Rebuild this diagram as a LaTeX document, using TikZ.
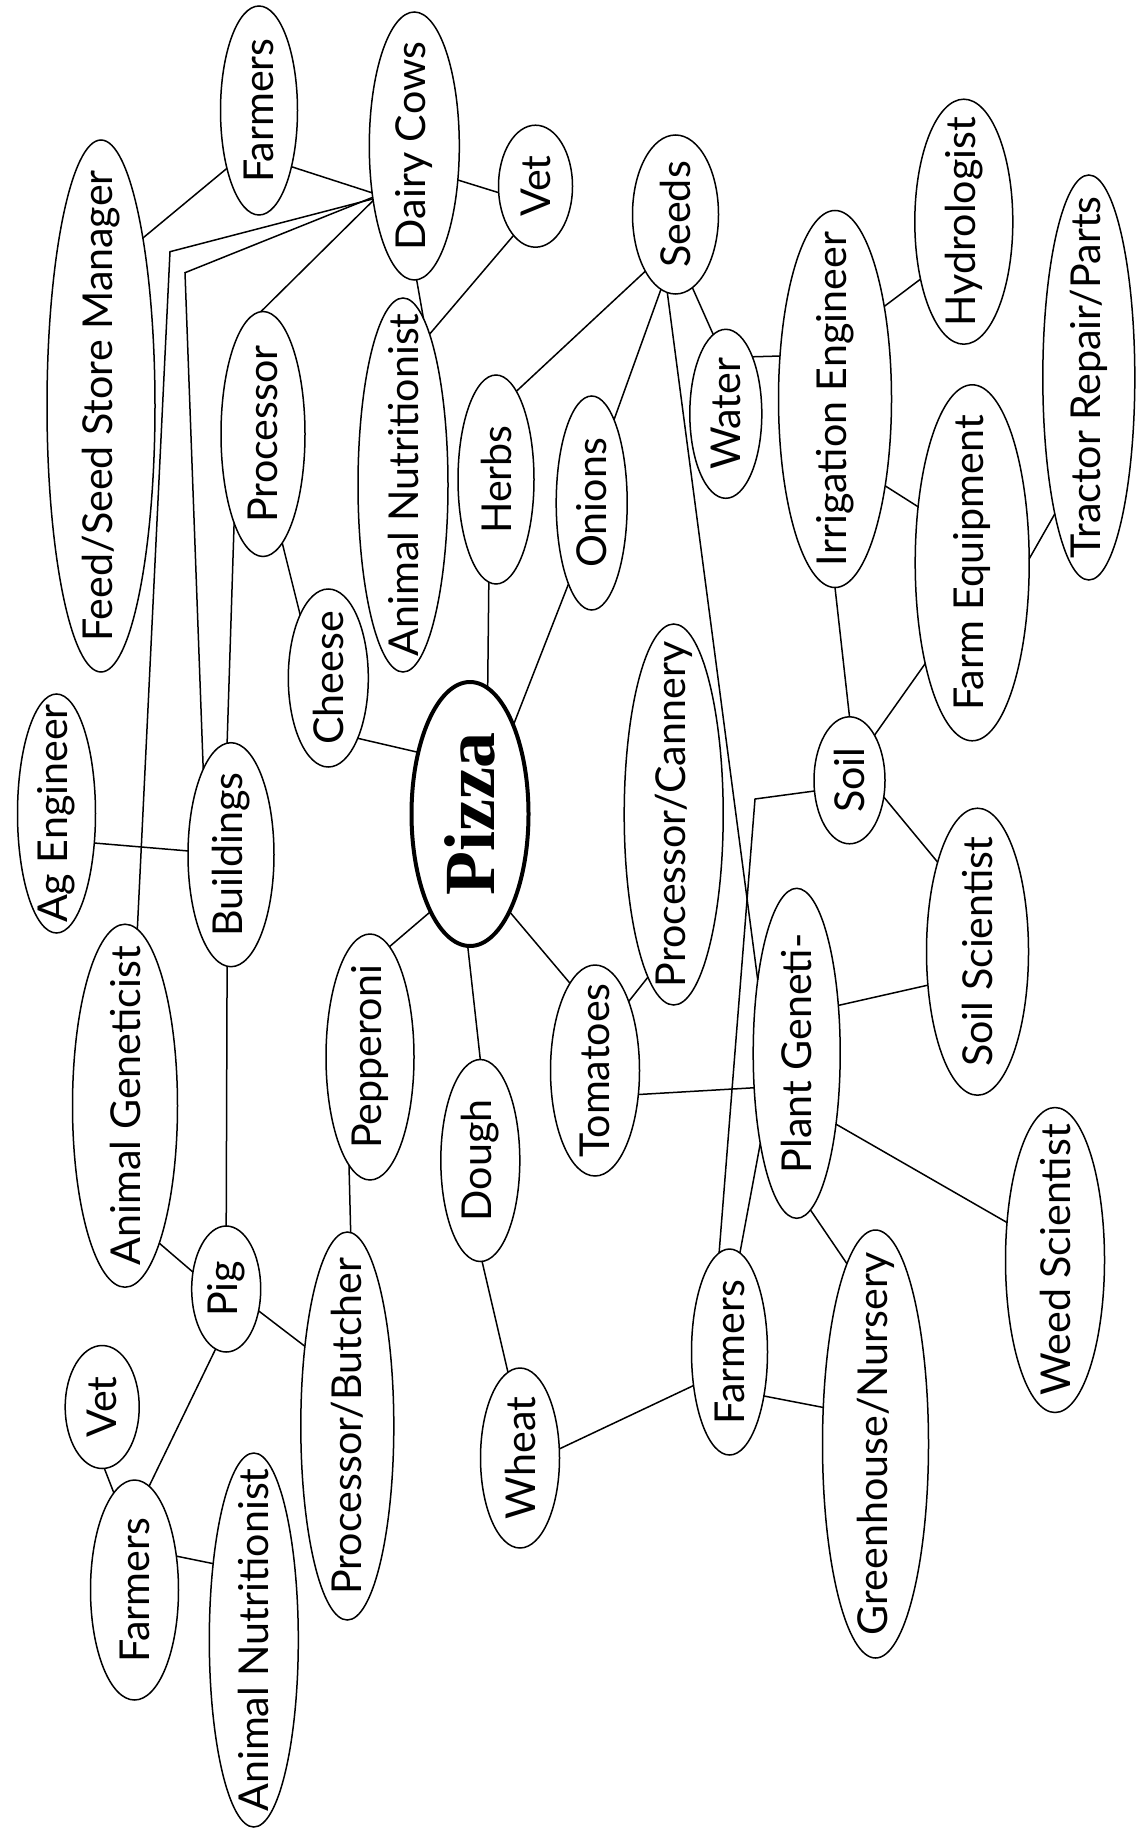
\documentclass[tikz,border=0pt]{standalone}
\usepackage{fontspec}
\setmainfont{Lato}
\newfontfamily\pzfont{Liberation Serif}
\usetikzlibrary{shapes.geometric}
\newcommand{\ellnode}[6]{\node[ell, minimum width=#4*0.5pt, minimum height=#5*0.5pt, label={[lbl]center:#6}] (#1) at (#2,#3) {};}
\begin{document}
\begin{tikzpicture}[x=0.5pt,y=-0.5pt,
  ell/.style={ellipse, draw, line width=0.75pt, inner sep=0pt, outer sep=0pt},
  lbl/.style={rotate=90, inner sep=0pt, font=\fontsize{20.6}{24}\selectfont},
  pzlbl/.style={rotate=90, inner sep=0pt, font=\pzfont\bfseries\fontsize{36}{40}\selectfont},
  edge/.style={line width=0.75pt}]
\path[use as bounding box, fill=white] (0,0) rectangle (1144,1829);

% nodes
\ellnode{farmersT}{259}{110.5}{77}{209}{Farmers}
\ellnode{dairy}{414.3}{146}{90}{268}{Dairy Cows}
\ellnode{vetT}{535.5}{186.2}{74}{122}{Vet}
\ellnode{feed}{101}{406}{108}{532}{Feed/Seed Store Manager}
\ellnode{seeds}{675.5}{214.5}{86}{159}{Seeds}
\ellnode{hydro}{963.8}{221.7}{98}{245}{Hydrologist}
\ellnode{tractor}{1088.8}{377.5}{92}{405}{Tractor Repair/Parts}
\ellnode{irrig}{835}{399}{113}{377}{Irrigation Engineer}
\ellnode{water}{725.8}{413.8}{72}{169}{Water}
\ellnode{procT}{263}{434}{84}{245}{Processor}
\ellnode{anutT}{403}{485}{90}{374}{Animal Nutritionist}
\ellnode{herbs}{496}{479.5}{76}{209}{Herbs}
\ellnode{onions}{591.7}{503}{71}{214}{Onions}
\ellnode{farmeq}{972.2}{562.8}{114}{356}{Farm Equipment}
\ellnode{cheese}{328.3}{678}{80}{178}{Cheese}
\ellnode{cannery}{673.7}{814.5}{99}{381}{Processor/Cannery}
\node[ell, line width=2pt, minimum width=117*0.5pt, minimum height=264*0.5pt,
  label={[pzlbl]center:Pizza}] (pizza) at (470,814) {};
\ellnode{agEng}{56.5}{813.5}{78}{239}{Ag Engineer}
\ellnode{build}{231}{854.7}{86}{224}{Buildings}
\ellnode{soil}{849.5}{780.3}{71}{127}{Soil}
\ellnode{agen}{125}{1105.7}{105}{363}{Animal Geneticist}
\ellnode{pepp}{370}{1057}{88}{246}{Pepperoni}
\ellnode{soilsci}{977.5}{951.7}{102}{287}{Soil Scientist}
\ellnode{tom}{595}{1070.5}{89}{211}{Tomatoes}
\ellnode{dough}{480.3}{1160.5}{79}{202}{Dough}
\ellnode{plantg}{796.7}{1053.3}{87}{330}{Plant Geneti-}
\ellnode{weed}{1055}{1260}{99}{305}{Weed Scientist}
\ellnode{pig}{226.2}{1289}{69}{126}{Pig}
\ellnode{butcher}{347.3}{1426}{93}{388}{Processor/Butcher}
\ellnode{vetB}{102.2}{1407}{74}{123}{Vet}
\ellnode{farmersM}{729.5}{1352}{76}{206}{Farmers}
\ellnode{green}{875.5}{1444}{106}{428}{Greenhouse/Nursery}
\ellnode{wheat}{520}{1458}{79}{180}{Wheat}
\ellnode{farmersB}{134.5}{1590}{88}{220}{Farmers}
\ellnode{anutB}{253.8}{1640}{89}{374}{Animal Nutritionist}

% bend points
\coordinate (k1) at (170,251.7);
\coordinate (k2) at (185,272.7);
\coordinate (k3) at (755,799);

% connectors
\draw[edge] (farmersT.241) -- (feed.76);
\draw[edge] (farmersT.300) -- (dairy.228);
\draw[edge] (dairy.322) -- (vetT.190);
\draw[edge] (dairy.233) -- (procT.91);
\draw[edge] (dairy.271) -- (anutT.83);
\draw[edge] (vetT.246) -- (anutT.80);
\draw[edge] (dairy.232) -- (k1) -- (agen.86);
\draw[edge] (dairy.231) -- (k2) -- (build.108);
\draw[edge] (seeds.242) -- (herbs.77);
\draw[edge] (seeds.259) -- (onions.75);
\draw[edge] (seeds.283) -- (water.99);
\draw[edge] (seeds.264) -- (plantg.118);
\draw[edge] (water.65) -- (irrig.142);
\draw[edge] (irrig.62) -- (hydro.233);
\draw[edge] (irrig.300) -- (farmeq.134);
\draw[edge] (farmeq.4) -- (tractor.256);
\draw[edge] (irrig.270) -- (soil.90);
\draw[edge] (farmeq.245) -- (soil.61);
\draw[edge] (soil.197) -- (k3) -- (farmersM.96);
\draw[edge] (soil.334) -- (soilsci.114);
\draw[edge] (soilsci.214) -- (plantg.49);
\draw[edge] (tom.331) -- (plantg.219);
\draw[edge] (plantg.299) -- (weed.142);
\draw[edge] (plantg.275) -- (green.99);
\draw[edge] (plantg.248) -- (farmersM.84);
\draw[edge] (farmersM.308) -- (green.145);
\draw[edge] (farmersM.223) -- (wheat.13);
\draw[edge] (wheat.98) -- (dough.271);
\draw[edge] (pizza.82) -- (herbs.266);
\draw[edge] (pizza.64) -- (onions.254);
\draw[edge] (pizza.130) -- (cheese.296);
\draw[edge] (pizza.248) -- (pepp.80);
\draw[edge] (pizza.269) -- (dough.90);
\draw[edge] (pizza.292) -- (tom.106);
\draw[edge] (tom.64) -- (cannery.261);
\draw[edge] (cheese.114) -- (procT.280);
\draw[edge] (build.92) -- (procT.252);
\draw[edge] (build.175) -- (agEng.322);
\draw[edge] (build.268) -- (pig.90);
\draw[edge] (pig.153) -- (agen.284);
\draw[edge] (pig.326) -- (butcher.118);
\draw[edge] (pepp.259) -- (butcher.89);
\draw[edge] (pig.260) -- (farmersB.82);
\draw[edge] (vetB.272) -- (farmersB.102);
\draw[edge] (farmersB.39) -- (anutB.118);
\end{tikzpicture}
\end{document}
